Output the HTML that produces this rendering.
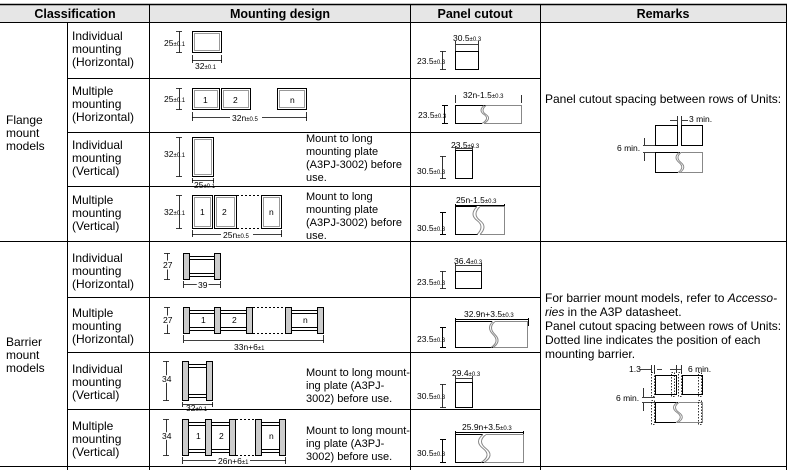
<!DOCTYPE html>
<html><head><meta charset="utf-8"><style>
html,body{margin:0;padding:0;background:#fff}
svg{display:block}
text{font-family:"Liberation Sans",Arial,sans-serif;fill:#000}
.t{font-size:12px}
.h{font-size:12.5px;font-weight:bold}
.s{font-size:8.5px}
.ss{font-size:6px}
.halo{stroke:#fff;stroke-width:3px;paint-order:stroke}
.halo tspan{stroke:none}
</style></head><body>
<svg width="787" height="472" viewBox="0 0 787 472" xmlns="http://www.w3.org/2000/svg">
<rect x="0" y="4" width="787" height="18" fill="#e6e6e6"/>
<g stroke="#000" stroke-width="1" fill="none">
<line x1="0" y1="4.5" x2="787" y2="4.5" stroke-width="1.5"/>
<line x1="0" y1="22.5" x2="787" y2="22.5"/>
<line x1="67.5" y1="22" x2="67.5" y2="470"/>
<line x1="149.5" y1="4" x2="149.5" y2="470"/>
<line x1="410.5" y1="4" x2="410.5" y2="470"/>
<line x1="540.5" y1="4" x2="540.5" y2="470"/>
<line x1="786.5" y1="4" x2="786.5" y2="470"/>
<line x1="67" y1="78.5" x2="541" y2="78.5"/>
<line x1="67" y1="132.5" x2="541" y2="132.5"/>
<line x1="67" y1="186.5" x2="541" y2="186.5"/>
<line x1="0" y1="241.5" x2="787" y2="241.5"/>
<line x1="67" y1="297.5" x2="541" y2="297.5"/>
<line x1="67" y1="352.5" x2="541" y2="352.5"/>
<line x1="67" y1="409.5" x2="541" y2="409.5"/>
<line x1="0" y1="466.5" x2="787" y2="466.5"/>
</g>
<text class="h" x="75" y="18" text-anchor="middle">Classification</text>
<text class="h" x="280" y="18" text-anchor="middle">Mounting design</text>
<text class="h" x="475" y="18" text-anchor="middle">Panel cutout</text>
<text class="h" x="663" y="18" text-anchor="middle">Remarks</text>

<g class="t">
<text x="6" y="124">Flange</text><text x="6" y="137">mount</text><text x="6" y="150">models</text>
<text x="6" y="346">Barrier</text><text x="6" y="359">mount</text><text x="6" y="372">models</text>
<text x="72" y="40">Individual</text><text x="72" y="53">mounting</text><text x="72" y="66">(Horizontal)</text>
<text x="72" y="95">Multiple</text><text x="72" y="108">mounting</text><text x="72" y="121">(Horizontal)</text>
<text x="72" y="149">Individual</text><text x="72" y="162">mounting</text><text x="72" y="175">(Vertical)</text>
<text x="72" y="204">Multiple</text><text x="72" y="217">mounting</text><text x="72" y="230">(Vertical)</text>
<text x="72" y="262">Individual</text><text x="72" y="275">mounting</text><text x="72" y="288">(Horizontal)</text>
<text x="72" y="317">Multiple</text><text x="72" y="330">mounting</text><text x="72" y="343">(Horizontal)</text>
<text x="72" y="373">Individual</text><text x="72" y="386">mounting</text><text x="72" y="399">(Vertical)</text>
<text x="72" y="430">Multiple</text><text x="72" y="443">mounting</text><text x="72" y="456">(Vertical)</text>
</g>

<g fill="none" stroke-width="1">
<rect x="192.5" y="31.5" width="29" height="21" stroke="#000"/>
<rect x="194.5" y="33.5" width="25" height="17" stroke="#999"/>
<path d="M176 31.5h6M179.5 31.5v21M176 52.5h6M192.5 55v8M221.5 55v8M192 60.5h30" stroke="#000" stroke-width="0.8"/>
<rect x="192.5" y="88.5" width="27" height="21" stroke="#000"/><rect x="194.5" y="90.5" width="23" height="17" stroke="#999"/>
<rect x="221.5" y="88.5" width="29" height="21" stroke="#000"/><rect x="223.5" y="90.5" width="25" height="17" stroke="#999"/>
<rect x="277.5" y="88.5" width="29" height="21" stroke="#000"/><rect x="279.5" y="90.5" width="25" height="17" stroke="#999"/>
<path d="M176 88.5h6M179.5 88.5v21M176 109.5h6M192.5 112v9M306.5 112v9M192 117.5h115" stroke="#000" stroke-width="0.8"/>
<rect x="192.5" y="137.5" width="21" height="39" stroke="#000"/><rect x="194.5" y="139.5" width="17" height="35" stroke="#999"/>
<path d="M176 137.5h6M179.5 137.5v39M176 176.5h6M192.5 178v5M213.5 178v5M192 180.5h22" stroke="#000" stroke-width="0.8"/>
<rect x="192.5" y="195.5" width="20" height="33" stroke="#000"/><rect x="194.5" y="197.5" width="16" height="29" stroke="#999"/>
<rect x="214.5" y="195.5" width="22" height="33" stroke="#000"/><rect x="216.5" y="197.5" width="18" height="29" stroke="#999"/>
<rect x="261.5" y="195.5" width="20" height="33" stroke="#000"/><rect x="263.5" y="197.5" width="16" height="29" stroke="#999"/>
<path d="M237 195.5h24M237 228.5h24" stroke="#000" stroke-dasharray="2 2"/>
<path d="M176 195.5h6M179.5 195.5v33M176 228.5h6M192.5 230v7M281.5 230v7M192 234.5h90" stroke="#000" stroke-width="0.8"/>
</g>
<g class="s">
<text x="164" y="46">25<tspan class="ss">±0.1</tspan></text>
<text x="195" y="69">32<tspan class="ss">±0.1</tspan></text>
<text x="164" y="102">25<tspan class="ss">±0.1</tspan></text>
<text x="203" y="103">1</text><text x="233" y="103">2</text><text x="290" y="103">n</text>
<rect x="230" y="114" width="32" height="8" fill="#fff"/>
<text x="232" y="121">32n<tspan class="ss">±0.5</tspan></text>
<text x="164" y="157">32<tspan class="ss">±0.1</tspan></text>
<text x="194" y="188">25<tspan class="ss">±0.1</tspan></text>
<text x="164" y="215">32<tspan class="ss">±0.1</tspan></text>
<text x="200" y="215">1</text><text x="222" y="215">2</text><text x="269" y="215">n</text>
<rect x="221" y="231" width="32" height="8" fill="#fff"/>
<text x="223" y="238">25n<tspan class="ss">±0.5</tspan></text>
</g>
<g class="t">
<text x="306" y="142" style="font-size:11px">Mount to long</text><text x="306" y="155" style="font-size:11px">mounting plate</text><text x="306" y="168" style="font-size:11px">(A3PJ-3002) before</text><text x="306" y="181" style="font-size:11px">use.</text>
<text x="306" y="200" style="font-size:11px">Mount to long</text><text x="306" y="213" style="font-size:11px">mounting plate</text><text x="306" y="226" style="font-size:11px">(A3PJ-3002) before</text><text x="306" y="239" style="font-size:11px">use.</text>
<text x="306" y="376" style="font-size:11px">Mount to long mount-</text><text x="306" y="389" style="font-size:11px">ing plate (A3PJ-</text><text x="306" y="402" style="font-size:11px">3002) before use.</text>
<text x="306" y="434" style="font-size:11px">Mount to long mount-</text><text x="306" y="447" style="font-size:11px">ing plate (A3PJ-</text><text x="306" y="460" style="font-size:11px">3002) before use.</text>
</g>

<g stroke="#000" stroke-width="1">
<g fill="#ccc"><rect x="183.5" y="253.5" width="6" height="26"/><rect x="214.5" y="253.5" width="6" height="26"/></g>
<path d="M190 256.5h24M190 259.5h24M190 273.5h24M190 276.5h24" fill="none"/>
<path d="M164 253.5h6M167.5 253.5v26M164 279.5h6M183.5 281v7M220.5 281v7M184 284.5h36" fill="none" stroke-width="0.8"/>
<g fill="#ccc"><rect x="183.5" y="307.5" width="6" height="26"/><rect x="214.5" y="307.5" width="6" height="26"/><rect x="246.5" y="307.5" width="6" height="26"/><rect x="285.5" y="307.5" width="6" height="26"/><rect x="317.5" y="307.5" width="6" height="26"/></g>
<path d="M190 310.5h24M190 313.5h24M190 327.5h24M190 330.5h24M221 310.5h25M221 313.5h25M221 327.5h25M221 330.5h25M292 310.5h25M292 313.5h25M292 327.5h25M292 330.5h25" fill="none"/>
<path d="M253 307.5h32M253 333.5h32" fill="none" stroke-dasharray="2 2"/>
<path d="M164 307.5h6M167.5 307.5v26M164 333.5h6M183.5 335v8M323.5 335v8M184 340.5h140" fill="none" stroke-width="0.8"/>
<g fill="#ccc"><rect x="182.5" y="361.5" width="6" height="39"/><rect x="206.5" y="361.5" width="6" height="39"/></g>
<path d="M189 364.5h17M189 367.5h17M189 394.5h17M189 397.5h17" fill="none"/>
<path d="M163 361.5h6M166.5 361.5v39M163 400.5h6M182.5 402v5M212.5 402v5M183 404.5h30" fill="none" stroke-width="0.8"/>
<g fill="#ccc"><rect x="182.5" y="419.5" width="6" height="36"/><rect x="205.5" y="419.5" width="6" height="36"/><rect x="229.5" y="419.5" width="6" height="36"/><rect x="255.5" y="419.5" width="6" height="36"/><rect x="279.5" y="419.5" width="6" height="36"/></g>
<path d="M189 422.5h16M189 425.5h16M189 449.5h16M189 452.5h16M212 422.5h17M212 425.5h17M212 449.5h17M212 452.5h17M262 422.5h17M262 425.5h17M262 449.5h17M262 452.5h17" fill="none"/>
<path d="M236 419.5h19M236 455.5h19" fill="none" stroke-dasharray="2 2"/>
<path d="M163 419.5h6M166.5 419.5v36M163 455.5h6M182.5 457v7M285.5 457v7M183 460.5h103" fill="none" stroke-width="0.8"/>
</g>
<g class="s">
<text class="halo" x="163" y="268">27</text><text class="halo" x="198" y="288">39</text>
<text class="halo" x="163" y="323">27</text><text x="201" y="323">1</text><text x="232" y="323">2</text><text x="303" y="323">n</text>
<text x="234" y="350">33n+6<tspan class="ss">±1</tspan></text>
<text class="halo" x="162" y="382">34</text><text x="186" y="411">32<tspan class="ss">±0.1</tspan></text>
<text class="halo" x="162" y="439">34</text><text x="196" y="439">1</text><text x="219" y="439">2</text><text x="269" y="439">n</text>
<rect x="216" y="457" width="34" height="8" fill="#fff"/>
<text x="218" y="464">26n+6<tspan class="ss">±1</tspan></text>
</g>

<g fill="none" stroke="#000" stroke-width="1">
<rect x="455.5" y="51.5" width="23" height="18"/><path d="M455.5 41v10M478.5 41v10M456 44.5h22M440 51.5h6M442.5 51.5v18M440 69.5h6" stroke-width="0.8"/>
<path d="M521 105.5H455.5v18H482M442 105.5h6M444.5 105.5v18M442 123.5h6" />
<path d="M455.5 95v8M521.5 95v8" stroke-width="0.8"/>
<path d="M484 105.5q-6 5 0 9t-2 9M486 105.5q-6 5 0 9t-2 9" stroke="#888"/>
<path d="M486 105.5h35.5v18H484" stroke="#888"/>
<rect x="455.5" y="150.5" width="17" height="28"/><path d="M455.5 146v4M472.5 146v4M456 148.5h16M440 156.5h6M442.5 156.5v22M440 178.5h6" stroke-width="0.8"/>
<path d="M477 206.5H455.5v28H478M440 212.5h6M442.5 212.5v22M440 234.5h6M455.5 204v3M504.5 204v3M456 205.5h48" />
<path d="M477 206.5q-8 8 0 14t0 14M480 206.5q-8 8 0 14t0 14" stroke="#888"/>
<path d="M480 206.5h24.5v28H480" stroke="#888"/>
<rect x="455.5" y="271.5" width="26" height="17"/><path d="M455.5 263v8M481.5 263v8M456 265.5h26M440 271.5h6M442.5 271.5v17M440 288.5h6" stroke-width="0.8"/>
<path d="M492 321.5H455.5v26H494M440 327.5h6M442.5 327.5v20M440 347.5h6M455.5 318v3M528.5 318v8M456 319.5h72" />
<path d="M493 321.5q-7 6 0 13t-2 13M495 321.5q-7 6 0 13t-2 13" stroke="#888"/>
<path d="M495 321.5h32.5v26H493" stroke="#888"/>
<rect x="455.5" y="382.5" width="17" height="25"/><path d="M455.5 376v6M472.5 376v6M456 378.5h16M440 384.5h6M442.5 384.5v23M440 407.5h6" stroke-width="0.8"/>
<path d="M483 434.5H455.5v28H485M440 439.5h6M442.5 439.5v23M440 462.5h6M455.5 431v4M523.5 431v8M456 432.5h67" />
<path d="M483 434.5q-9 7 0 14t-2 14M486 434.5q-9 7 0 14t-2 14" stroke="#888"/>
<path d="M486 434.5h37.5v28H484" stroke="#888"/>
</g>
<g class="s">
<text x="453" y="41">30.5<tspan class="ss">±0.3</tspan></text><text x="417" y="64">23.5<tspan class="ss">±0.3</tspan></text>
<rect x="461" y="91" width="44" height="8" fill="#fff"/>
<text x="463" y="98">32n-1.5<tspan class="ss">±0.3</tspan></text><text x="418" y="118">23.5<tspan class="ss">±0.3</tspan></text>
<text x="451" y="148">23.5<tspan class="ss">±0.3</tspan></text><text x="417" y="174">30.5<tspan class="ss">±0.3</tspan></text>
<text x="456" y="203">25n-1.5<tspan class="ss">±0.3</tspan></text><text x="417" y="231">30.5<tspan class="ss">±0.3</tspan></text>
<text x="454" y="264">36.4<tspan class="ss">±0.3</tspan></text><text x="417" y="285">23.5<tspan class="ss">±0.3</tspan></text>
<text x="464" y="317">32.9n+3.5<tspan class="ss">±0.3</tspan></text><text x="417" y="342">23.5<tspan class="ss">±0.3</tspan></text>
<text x="452" y="376">29.4<tspan class="ss">±0.3</tspan></text><text x="417" y="399">30.5<tspan class="ss">±0.3</tspan></text>
<text x="462" y="430">25.9n+3.5<tspan class="ss">±0.3</tspan></text><text x="417" y="456">30.5<tspan class="ss">±0.3</tspan></text>
</g>

<g class="t">
<text x="545" y="103">Panel cutout spacing between rows of Units:</text>
<text x="545" y="302">For barrier mount models, refer to <tspan font-style="italic">Accesso-</tspan></text>
<text x="545" y="316"><tspan font-style="italic">ries</tspan> in the A3P datasheet.</text>
<text x="545" y="330">Panel cutout spacing between rows of Units:</text>
<text x="545" y="344">Dotted line indicates the position of each</text>
<text x="545" y="358">mounting barrier.</text>
</g>
<g fill="none" stroke="#000" stroke-width="1">
<rect x="655.5" y="125.5" width="22" height="20"/><rect x="681.5" y="125.5" width="21" height="20"/>
<path d="M680 152.5h-24.5v20H678"/>
<path d="M679 152.5q-6 5 0 10t-1 10M681 152.5q-6 5 0 10t-1 10M681 152.5h21.5v20H679" stroke="#888"/>
<path d="M677.5 116v9M681.5 116v9M670 120.5h7M682 120.5h6M643 145.5h12M643 152.5h12M644.5 138v7M644.5 153v8" stroke-width="0.8"/>
<rect x="655.5" y="375.5" width="21" height="19"/><rect x="682.5" y="375.5" width="20" height="19"/>
<path d="M678 402.5h-22.5v20H676"/>
<path d="M677 402.5q-7 5 0 10t-1 10M679 402.5q-7 5 0 10t-1 10M679 402.5h23.5v20H677" stroke="#888"/>
<g stroke-dasharray="1.5 1.5" stroke-width="0.8">
<rect x="651.5" y="372.5" width="3" height="24"/><rect x="671.5" y="372.5" width="3" height="24"/><rect x="678.5" y="372.5" width="3" height="24"/><rect x="698.5" y="372.5" width="3" height="24"/>
<rect x="651.5" y="400.5" width="3" height="24"/><rect x="698.5" y="400.5" width="3" height="24"/>
</g>
<path d="M640 369.5h11M657 369.5h5M670 369.5h6M677 369.5h4M651.5 365v8M654.5 365v8M676.5 365v8M681.5 365v8M642 397.5h13M642 402.5h13M643.5 388v9M643.5 403v8" stroke-width="0.8"/>
</g>
<g class="s">
<text x="689" y="122">3 min.</text><text x="617" y="151">6 min.</text>
<text x="629" y="372">1.3</text><text x="688" y="372">6 min.</text><text x="616" y="401">6 min.</text>
</g>
</svg>
</body></html>
